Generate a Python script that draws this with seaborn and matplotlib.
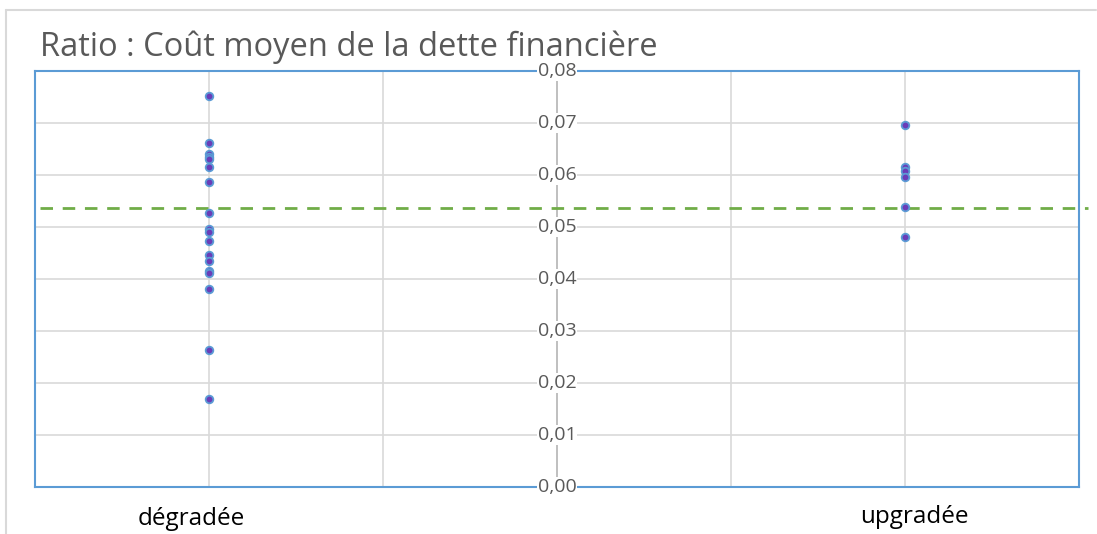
import matplotlib
matplotlib.use("Agg")
import matplotlib.pyplot as plt
import seaborn as sns
import pandas as pd
from matplotlib.lines import Line2D

categories = ["dégradée", "upgradée"]
degradee_values = [0.0752, 0.0662, 0.0640, 0.0634, 0.0630, 0.0616, 0.0587,
                   0.0527, 0.0497, 0.0490, 0.0474, 0.0446, 0.0434, 0.0415,
                   0.0412, 0.0380, 0.0263, 0.0169]
upgradee_values = [0.0696, 0.0615, 0.0608, 0.0596, 0.0538, 0.0480]
reference_value = 0.0536
y_ticks = [0.00, 0.01, 0.02, 0.03, 0.04, 0.05, 0.06, 0.07, 0.08]
title = "Ratio : Coût moyen de la dette financière"

sns.set_theme(style="white")
plt.rcParams['font.family'] = ['Open Sans', 'DejaVu Sans']

positions = {cat: 1 + 4 * i for i, cat in enumerate(categories)}
df = pd.DataFrame({
    "cat": [categories[0]] * len(degradee_values) + [categories[1]] * len(upgradee_values),
    "val": degradee_values + upgradee_values,
})
df["x"] = df["cat"].map(positions)

W, H = 1097, 534
fig = plt.figure(figsize=(W / 100, H / 100), dpi=100)
ax = fig.add_axes([35 / W, 1 - 487 / H, (1079 - 35) / W, (487 - 71) / H])

ax.set_xlim(0, 6)
ax.set_ylim(0, 0.08)

# gridlines
for yv in y_ticks[1:-1]:
    ax.axhline(yv, color="#D9D9D9", lw=1.2, zorder=0)
for xv in [1, 2, 4, 5]:
    ax.axvline(xv, color="#D9D9D9", lw=1.2, zorder=0)
ax.axvline(3, color="#BFBFBF", lw=1.4, zorder=1)

for s in ax.spines.values():
    s.set_color("#5B9BD5")
    s.set_linewidth(1.5)

for yv in y_ticks:
    ax.text(3, yv, f"{yv:.2f}".replace(".", ","), ha="center", va="center",
            fontsize=14, color="#595959", zorder=3,
            bbox=dict(boxstyle="square,pad=0.05", fc="white", ec="none"))

# reference dashed line
ax.plot([0.03, 6.05], [reference_value, reference_value], color="#70AD47",
        lw=2, ls=(0, (4.5, 3.5)), clip_on=False, zorder=2)

sns.scatterplot(data=df, x="x", y="val", ax=ax, s=30, color="#6A3DB8",
                edgecolor="#5B9BD5", linewidth=1.3, zorder=4, legend=False)
ax.set_xlabel("")
ax.set_ylabel("")
ax.set_xticks([])
ax.set_yticks([])

# category labels
fig.text(191 / W, 1 - 519 / H, categories[0], ha="center", va="center",
         fontsize=17.5, color="black")
fig.text(914 / W, 1 - 517 / H, categories[1], ha="center", va="center",
         fontsize=17.5, color="black")

# title
fig.text(40 / W, 1 - 56 / H, title, ha="left", va="baseline",
         fontsize=23.5, color="#595959")

# outer border
fig.add_artist(Line2D([6 / W, 6 / W], [0, 1 - 10 / H], color="#D9D9D9", lw=1.5,
                      transform=fig.transFigure))
fig.add_artist(Line2D([6 / W, 1096 / W], [1 - 10 / H, 1 - 10 / H], color="#D9D9D9",
                      lw=1.5, transform=fig.transFigure))

fig.savefig("out.png", dpi=100, facecolor="white")
